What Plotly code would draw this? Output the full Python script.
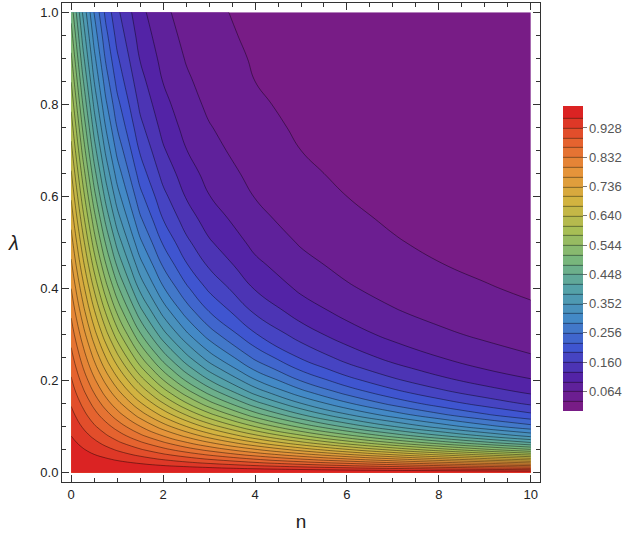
import plotly.graph_objects as go

# grid (n across, lambda down), values x1000
n_vals = [0, 0.25, 0.5, 0.75, 1, 1.5, 2, 2.5, 3, 4, 5, 6, 7, 8, 9, 10]
lam_vals = [0, 0.0025, 0.005, 0.0075, 0.01, 0.015, 0.02, 0.03, 0.04, 0.05,
            0.065, 0.08, 0.1, 0.125, 0.15, 0.175, 0.2, 0.225, 0.25, 0.3,
            0.35, 0.4, 0.45, 0.5, 0.55, 0.6, 0.65, 0.7, 0.75, 0.8, 0.85,
            0.9, 0.95, 1.0]

z_rows = [
    [1000, 1000, 1000, 1000, 1000, 1000, 1000, 1000, 1000, 1000, 1000, 1000, 1000, 1000, 1000, 1000],
    [999, 998, 998, 997, 996, 995, 994, 992, 991, 989, 986, 984, 981, 979, 976, 973],
    [998, 996, 995, 994, 992, 990, 987, 985, 982, 977, 972, 967, 962, 957, 952, 947],
    [996, 994, 993, 991, 989, 985, 981, 977, 974, 966, 958, 950, 943, 935, 927, 919],
    [995, 993, 990, 988, 985, 980, 975, 970, 965, 954, 944, 934, 923, 913, 902, 892],
    [992, 989, 985, 981, 977, 970, 962, 955, 947, 931, 916, 900, 885, 869, 853, 838],
    [990, 985, 980, 975, 970, 960, 950, 939, 929, 908, 887, 867, 846, 825, 805, 784],
    [985, 978, 970, 963, 955, 940, 924, 909, 893, 862, 831, 801, 771, 741, 712, 684],
    [980, 970, 960, 950, 940, 920, 899, 879, 858, 817, 777, 737, 699, 663, 628, 595],
    [975, 963, 950, 938, 925, 900, 874, 848, 823, 773, 724, 677, 633, 592, 553, 517],
    [968, 952, 936, 919, 903, 870, 837, 804, 772, 709, 650, 595, 545, 499, 458, 420],
    [960, 941, 921, 901, 881, 840, 800, 761, 722, 649, 583, 523, 469, 422, 381, 344],
    [950, 926, 901, 877, 852, 802, 753, 706, 660, 577, 504, 441, 387, 341, 301, 268],
    [938, 908, 877, 847, 816, 755, 696, 641, 589, 497, 421, 358, 307, 265, 230, 201],
    [925, 890, 854, 817, 781, 710, 643, 581, 525, 430, 354, 294, 247, 210, 180, 155],
    [912, 872, 830, 788, 747, 667, 593, 527, 469, 372, 299, 244, 202, 169, 143, 123],
    [900, 854, 807, 760, 714, 626, 547, 478, 419, 324, 255, 205, 167, 138, 116, 99],
    [888, 836, 784, 732, 682, 587, 505, 434, 375, 283, 219, 173, 140, 115, 96, 81],
    [875, 819, 762, 705, 651, 551, 466, 395, 336, 249, 189, 148, 118, 97, 80, 67],
    [850, 785, 718, 653, 592, 485, 397, 328, 273, 195, 145, 111, 87, 71, 58, 49],
    [825, 751, 676, 605, 539, 427, 340, 274, 224, 155, 113, 86, 67, 53, 44, 36],
    [800, 718, 636, 559, 490, 376, 292, 231, 186, 126, 90, 68, 52, 42, 34, 28],
    [775, 685, 597, 516, 445, 333, 253, 196, 156, 104, 74, 55, 42, 33, 27, 22],
    [750, 654, 560, 477, 405, 295, 220, 168, 132, 87, 61, 45, 34, 27, 22, 18],
    [725, 623, 526, 440, 368, 262, 192, 145, 113, 73, 51, 37, 29, 23, 18, 15],
    [700, 593, 492, 406, 335, 234, 169, 126, 97, 63, 43, 32, 24, 19, 15, 13],
    [675, 564, 461, 375, 306, 209, 149, 111, 85, 54, 37, 27, 21, 16, 13, 11],
    [650, 535, 431, 346, 279, 188, 132, 97, 74, 47, 32, 23, 18, 14, 11, 9],
    [625, 508, 403, 320, 255, 169, 118, 86, 66, 41, 28, 20, 15, 12, 10, 8],
    [600, 481, 377, 295, 234, 153, 106, 77, 58, 36, 25, 18, 14, 11, 9, 7],
    [575, 455, 352, 273, 214, 139, 95, 69, 52, 32, 22, 16, 12, 9, 8, 6],
    [550, 429, 329, 252, 197, 126, 86, 62, 47, 29, 20, 14, 11, 8, 7, 6],
    [525, 405, 307, 234, 181, 115, 78, 56, 42, 26, 18, 13, 10, 8, 6, 5],
    [500, 381, 286, 216, 167, 105, 71, 51, 38, 24, 16, 12, 9, 7, 5, 5],
]

colors = [
    [0.00, "#781C86"], [0.10, "#5323A6"], [0.20, "#3F55D0"],
    [0.30, "#4389C6"], [0.40, "#54A1A8"], [0.50, "#78B67C"],
    [0.60, "#A7BE55"], [0.70, "#D2B340"], [0.80, "#E5943A"],
    [0.90, "#E5632F"], [1.00, "#DB2323"],
]

z = [[v / 1000 for v in row] for row in z_rows]

fig = go.Figure(go.Contour(
    x=n_vals, y=lam_vals, z=z,
    colorscale=colors, zmin=0, zmax=1,
    contours=dict(start=0.032, end=0.968, size=0.032, coloring="fill"),
    line=dict(color="rgba(0,0,0,0.6)", width=0.7, smoothing=1.3),
    colorbar=dict(x=1.048, xanchor="left", xpad=0, ypad=0, thickness=20,
                  len=0.637, lenmode="fraction", y=0.4666, yanchor="middle",
                  tick0=0.064, dtick=0.096, tickformat=".3f",
                  ticks="outside", ticklen=4, tickcolor="#777",
                  outlinewidth=0,
                  tickfont=dict(size=13, color="#555")),
))

axis_style = dict(showline=True, linecolor="#333", linewidth=1, mirror="ticks",
                  ticks="inside", ticklen=7, tickcolor="#333", showgrid=False,
                  zeroline=False, tickfont=dict(size=13, color="#222"))

fig.update_xaxes(range=[-0.2, 10.2], dtick=2, tick0=0,
                 minor=dict(ticks="inside", ticklen=4, dtick=0.5, tickcolor="#333"),
                 title=dict(text="n", font=dict(size=19, color="#222"), standoff=14),
                 **axis_style)
fig.update_yaxes(range=[-0.02, 1.02], dtick=0.2, tick0=0, tickformat=".1f",
                 minor=dict(ticks="inside", ticklen=4, dtick=0.05, tickcolor="#333"),
                 **axis_style)

fig.add_annotation(text="<i>λ</i>", xref="paper", yref="paper",
                   x=-0.1025, y=0.499, xanchor="center", yanchor="middle",
                   showarrow=False, font=dict(size=20, color="#222"))

fig.update_layout(width=636, height=538, margin=dict(l=62, r=96, t=3, b=56),
                  paper_bgcolor="white", plot_bgcolor="white",
                  font=dict(family="Liberation Sans, Arial, sans-serif"))

fig.write_html("out.html", config={"displayModeBar": False},
               post_script="document.body.style.margin='0px';")
